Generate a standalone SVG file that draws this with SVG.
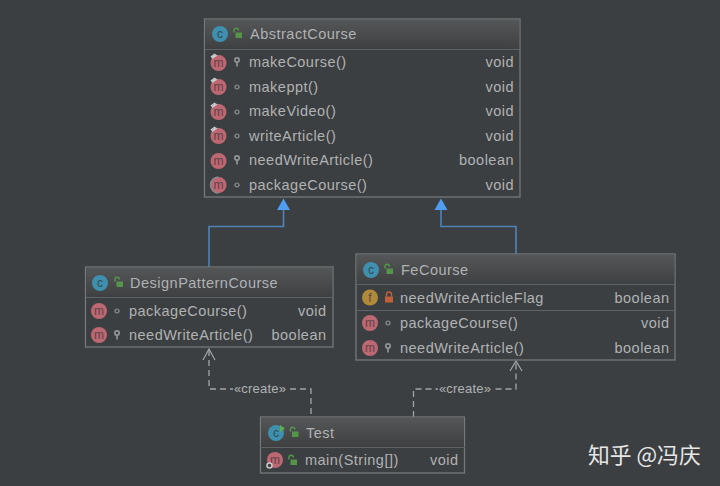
<svg xmlns="http://www.w3.org/2000/svg" width="720" height="486" viewBox="0 0 720 486">
  <style>
    text { font-family: "Liberation Sans", Arial, sans-serif; fill: #b0b2b4; font-size: 14.500px; letter-spacing: 0.480px; }
    .title { font-size: 14.500px; letter-spacing: 0.500px; }
    .type { text-anchor: end; }
    .box { fill: #3c3f41; stroke: #75797c; stroke-width: 1.3; }
    .rule { stroke: #5f6365; stroke-width: 1.2; fill: none; }
    .icon { font-size: 12px; text-anchor: middle; fill: #5a4448; letter-spacing: 0; }
    .m { fill: #bd6773; }
    .c { fill: #3f8fae; }
    .f { fill: #b08a3a; }
    .dot { fill: none; stroke: #8f9496; stroke-width: 1.2; }
    .key { fill: none; stroke: #8f9496; stroke-width: 1.7; }
    .lock { fill: none; stroke: #55954a; stroke-width: 1.5; }
    .inherit { fill: none; stroke: #4f83b8; stroke-width: 1.6; }
    .dep { fill: none; stroke: #a3a5a7; stroke-width: 1.3; stroke-dasharray: 6 4; }
    .open { fill: none; stroke: #a3a5a7; stroke-width: 1.2; }
    .tip { fill: #4f9cf0; }
    .label { font-size: 13px; text-anchor: middle; letter-spacing: 0.200px; }
    .brand { font-family: "Noto Sans CJK SC", sans-serif; font-size: 21.800px; fill: #e6e6e6; letter-spacing: 0; }
    .over { fill: #c4c6c8; }
  </style>
  <defs>
    <linearGradient id="head" x1="0" y1="0" x2="0" y2="1">
      <stop offset="0" stop-color="#545657"/>
      <stop offset="1" stop-color="#3e4042"/>
    </linearGradient>
    <g id="key"><circle cx="0" cy="-2" r="2.200" class="key"/><path d="M0 0V4.500" class="key"/></g>
    <g id="pkg"><circle cx="0" cy="0" r="2" class="dot"/></g>
    <g id="open"><rect x="-1.500" y="-0.500" width="6.500" height="5.500" fill="#55954a"/><path d="M-3 -0.500V-2.500a2.200 2.200 0 0 1 4.400 0" class="lock"/></g>
    <g id="method"><circle r="8" class="m"/><text class="icon" y="4">m</text></g>
    <g id="over"><path d="M-8 -6.500L-4 -9.500L-1 -7.500L-6 -4Z" class="over"/></g>
    <g id="cls"><circle r="8" class="c"/><text class="icon" y="4" style="fill:#2f4a58">c</text></g>
  </defs>

  <rect width="720" height="486" fill="#3c3f41"/>

  <g id="connectors">
    <path class="inherit" d="M209 267V226.500H283.500V208"/>
    <path class="tip" d="M283.500 198.500L290 210H277Z"/>
    <path class="inherit" d="M516 254V226.500H441V208"/>
    <path class="tip" d="M441 198.500L447.500 210H434.500Z"/>
    <path class="dep" d="M209 350V389H311V417"/>
    <path class="open" d="M203 360L209 349L215 360"/>
    <path class="dep" d="M413.500 417V389H516V363"/>
    <path class="open" d="M510 371L516 361L522 371"/>
    <rect x="233" y="382" width="54" height="14" fill="#3c3f41"/>
    <rect x="438" y="382" width="54" height="14" fill="#3c3f41"/>
    <text class="label" x="260" y="393">«create»</text>
    <text class="label" x="465" y="393">«create»</text>
  </g>

  <g id="AbstractCourse">
    <rect class="box" x="204.500" y="19" width="315.500" height="178"/>
    <rect x="205.200" y="19.700" width="314" height="29" fill="url(#head)"/>
    <path class="rule" d="M205 49.500H520"/>
    <use href="#cls" x="220" y="34"/>
    <use href="#open" x="237" y="33"/>
    <text class="title" x="250" y="39">AbstractCourse</text>
    <use href="#method" x="218.500" y="63"/><use href="#over" x="218.500" y="63"/><use href="#key" x="237" y="62"/>
    <text x="249" y="67">makeCourse()</text><text class="type" x="514" y="67">void</text>
    <use href="#method" x="218.500" y="87"/><use href="#over" x="218.500" y="87"/><use href="#pkg" x="237" y="87"/>
    <text x="249" y="92">makeppt()</text><text class="type" x="514" y="92">void</text>
    <use href="#method" x="218.500" y="112"/><use href="#over" x="218.500" y="112"/><use href="#pkg" x="237" y="112"/>
    <text x="249" y="116">makeVideo()</text><text class="type" x="514" y="116">void</text>
    <use href="#method" x="218.500" y="136"/><use href="#over" x="218.500" y="136"/><use href="#pkg" x="237" y="136"/>
    <text x="249" y="141">writeArticle()</text><text class="type" x="514" y="141">void</text>
    <use href="#method" x="218.500" y="161"/><use href="#key" x="237" y="160"/>
    <text x="249" y="165">needWriteArticle()</text><text class="type" x="514" y="165">boolean</text>
    <use href="#method" x="218.500" y="185"/><path d="M218.500 177a8 8 0 0 0 0 16" fill="none" stroke="#888b8d" stroke-width="1.500"/><use href="#pkg" x="237" y="185"/>
    <text x="249" y="190">packageCourse()</text><text class="type" x="514" y="190">void</text>
  </g>

  <g id="DesignPatternCourse">
    <rect class="box" x="85.500" y="267" width="247.500" height="80"/>
    <rect x="86.200" y="267.700" width="246" height="29" fill="url(#head)"/>
    <path class="rule" d="M86 297.500H333"/>
    <use href="#cls" x="100" y="283"/>
    <use href="#open" x="118" y="282"/>
    <text class="title" x="130" y="288">DesignPatternCourse</text>
    <use href="#method" x="99" y="311"/><use href="#pkg" x="117" y="311"/>
    <text x="129" y="316">packageCourse()</text><text class="type" x="326.500" y="316">void</text>
    <use href="#method" x="99" y="335"/><use href="#key" x="117" y="335"/>
    <text x="129" y="340">needWriteArticle()</text><text class="type" x="326.500" y="340">boolean</text>
  </g>

  <g id="FeCourse">
    <rect class="box" x="356" y="254" width="319" height="106"/>
    <rect x="356.700" y="254.700" width="317.600" height="29" fill="url(#head)"/>
    <path class="rule" d="M356 284.500H675M356 310.500H675"/>
    <use href="#cls" x="371" y="270"/>
    <use href="#open" x="388" y="269"/>
    <text class="title" x="401" y="275">FeCourse</text>
    <circle cx="370" cy="297.500" r="8" class="f"/><text class="icon" x="370" y="302">f</text>
    <path d="M385 296.500h8v6h-8z" fill="#c0603a"/><path d="M386.500 296.500v-2a2.500 2.500 0 0 1 5 0v2" fill="none" stroke="#c0603a" stroke-width="1.400"/>
    <text x="400" y="303">needWriteArticleFlag</text><text class="type" x="669.500" y="303">boolean</text>
    <use href="#method" x="370" y="323"/><use href="#pkg" x="388" y="323"/>
    <text x="400" y="328">packageCourse()</text><text class="type" x="669.500" y="328">void</text>
    <use href="#method" x="370" y="348"/><use href="#key" x="388" y="348"/>
    <text x="400" y="353">needWriteArticle()</text><text class="type" x="669.500" y="353">boolean</text>
  </g>

  <g id="Test">
    <rect class="box" x="260.500" y="417" width="204" height="56"/>
    <rect x="261.200" y="417.700" width="202.600" height="29" fill="url(#head)"/>
    <path class="rule" d="M260 447.500H465"/>
    <use href="#cls" x="276" y="433"/>
    <path d="M280 425L285 428.500L280 432Z" fill="#5fae4e"/>
    <use href="#open" x="293.500" y="432"/>
    <text class="title" x="306" y="438">Test</text>
    <use href="#method" x="275" y="460"/>
    <circle cx="269.500" cy="465.500" r="2.500" fill="#3c3f41" stroke="#c8c8c8" stroke-width="1.500"/>
    <use href="#open" x="292" y="460"/>
    <text x="305" y="465">main(String[])</text><text class="type" x="458.500" y="465">void</text>
  </g>

  <text class="brand" x="588" y="463">知乎 @冯庆</text>
</svg>
